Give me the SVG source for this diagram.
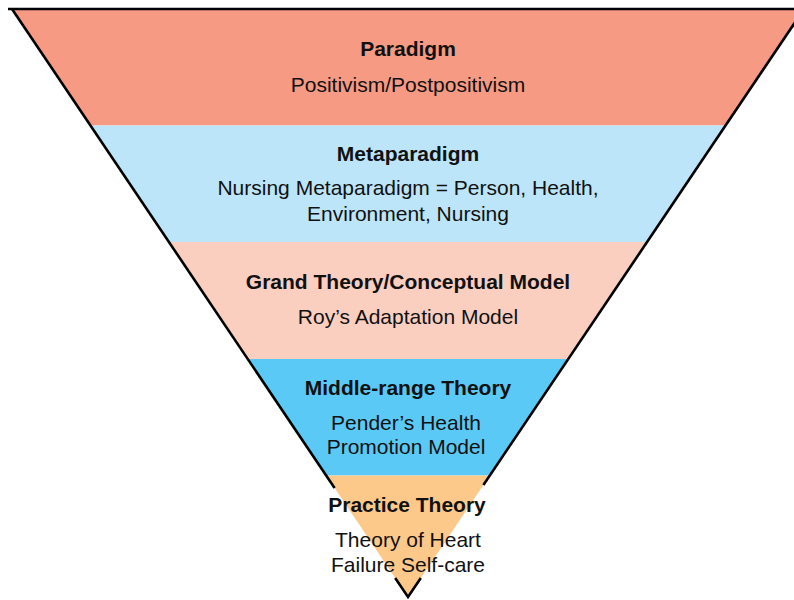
<svg xmlns="http://www.w3.org/2000/svg" width="794" height="600" viewBox="0 0 794 600">
  <defs>
    <clipPath id="funnel">
      <polygon points="12,9 804,9 408,597"/>
    </clipPath>
    <style>
      .title { font-family: "Liberation Sans", Arial, sans-serif; font-size: 21px; font-weight: bold; fill: #111; text-anchor: middle; }
      .body { font-family: "Liberation Sans", Arial, sans-serif; font-size: 21px; fill: #111; text-anchor: middle; }
      .edge { fill: none; stroke: #000; stroke-width: 2.6; stroke-linecap: butt; stroke-linejoin: miter; }
    </style>
  </defs>
  <rect width="794" height="600" fill="#fff"/>

  <!-- colour bands, clipped to the inverted triangle -->
  <g clip-path="url(#funnel)">
    <g id="paradigm"><rect x="0" y="9" width="810" height="116.5" fill="#F79A83"/></g>
    <g id="metaparadigm"><rect x="0" y="125.5" width="810" height="116.5" fill="#BCE5F9"/></g>
    <g id="grand-theory"><rect x="0" y="242" width="810" height="117" fill="#FBCFC0"/></g>
    <g id="middle-range"><rect x="0" y="359" width="810" height="116.5" fill="#5BC9F6"/></g>
    <g id="practice"><rect x="0" y="475.5" width="810" height="125" fill="#FDC98B"/></g>
  </g>

  <!-- outline of the funnel -->
  <g id="outline">
    <line class="edge" x1="8" y1="9" x2="794" y2="9"/>
    <line class="edge" x1="12" y1="9" x2="334.6" y2="488"/>
    <line class="edge" x1="804" y1="9" x2="483.4" y2="485"/>
    <polyline class="edge" points="395.2,578 408,597 420.8,578"/>
  </g>

  <!-- labels -->
  <g id="paradigm-label">
    <text class="title" x="408" y="56">Paradigm</text>
    <text class="body" x="408" y="92">Positivism/Postpositivism</text>
  </g>
  <g id="metaparadigm-label">
    <text class="title" x="408" y="160.5">Metaparadigm</text>
    <text class="body" x="408" y="195">Nursing Metaparadigm = Person, Health,</text>
    <text class="body" x="408" y="221">Environment, Nursing</text>
  </g>
  <g id="grand-theory-label">
    <text class="title" x="408" y="289">Grand Theory/Conceptual Model</text>
    <text class="body" x="408" y="324">Roy’s Adaptation Model</text>
  </g>
  <g id="middle-range-label">
    <text class="title" x="408" y="395">Middle-range Theory</text>
    <text class="body" x="406" y="430">Pender’s Health</text>
    <text class="body" x="406" y="454">Promotion Model</text>
  </g>
  <g id="practice-label">
    <text class="title" x="407" y="512">Practice Theory</text>
    <text class="body" x="408" y="547">Theory of Heart</text>
    <text class="body" x="408" y="572">Failure Self-care</text>
  </g>
</svg>
